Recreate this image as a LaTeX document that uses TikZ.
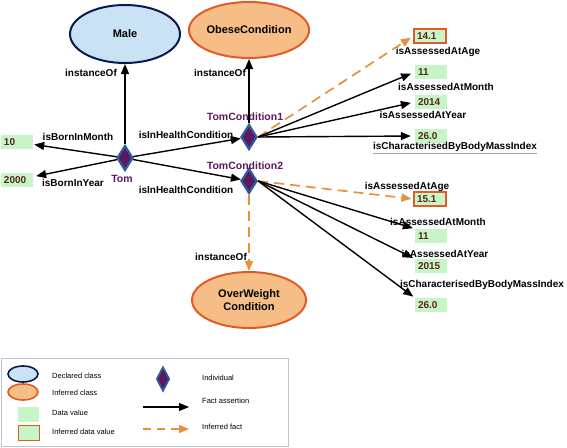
\documentclass[tikz,border=0pt]{standalone}
\usepackage{fontspec}
\setmainfont{Liberation Sans}
\usetikzlibrary{shapes.geometric,arrows.meta}
\definecolor{declfill}{HTML}{C9E3F5}
\definecolor{decldraw}{HTML}{0B1A4E}
\definecolor{inffill}{HTML}{F6BE86}
\definecolor{infdraw}{HTML}{E05A2A}
\definecolor{valfill}{HTML}{C8F5C8}
\definecolor{valtext}{HTML}{5A2418}
\definecolor{indfill}{HTML}{5B1A5E}
\definecolor{inddraw}{HTML}{2E5B9C}
\definecolor{indtext}{HTML}{5B1A5E}
\definecolor{inferarrow}{HTML}{E8913C}
\definecolor{legendframe}{HTML}{B8C6D6}
\begin{document}
\begin{tikzpicture}[x=1pt,y=-1pt,
  declclass/.style={ellipse, draw=decldraw, fill=declfill, line width=2pt, inner sep=0, font=\bfseries\fontsize{11}{13}\selectfont},
  infclass/.style={ellipse, draw=infdraw, fill=inffill, line width=2pt, inner sep=0, align=center, font=\bfseries\fontsize{11}{13}\selectfont},
  indiv/.style={diamond, draw=inddraw, fill=indfill, line width=2.2pt, inner sep=0, minimum width=16pt, minimum height=25pt},
  indlabel/.style={text=indtext, inner sep=1pt, font=\bfseries\fontsize{10.5}{12}\selectfont},
  value/.style={rectangle, fill=valfill, minimum height=14pt, text width=26pt, inner xsep=3pt, inner ysep=0, align=left, text=valtext, font=\bfseries\fontsize{10}{12}\selectfont},
  infvalue/.style={value, draw=infdraw, line width=1.2pt},
  rel/.style={inner sep=1pt, font=\bfseries\fontsize{10}{12}\selectfont},
  fact/.style={draw=black, line width=1.4pt, -{Triangle[length=10pt,width=8pt]}},
  inferred/.style={draw=inferarrow, line width=1.7pt, dash pattern=on 10pt off 6pt, -{Triangle[length=10pt,width=8pt]}},
  legtext/.style={anchor=west, inner sep=0, font=\fontsize{7.5}{9}\selectfont}
]
\useasboundingbox (0,0) rectangle (567,447);

% classes
\node[declclass, minimum width=110pt, minimum height=58pt] (male) at (125,34) {Male};
\node[infclass, minimum width=110pt, minimum height=56pt] (obese) at (249,30) {ObeseCondition};
\node[infclass, minimum width=114pt, minimum height=56pt] (over) at (249,300) {OverWeight\\Condition};

% individuals
\node[indiv] (tom) at (125,158) {};
\node[indiv] (c1) at (249,137) {};
\node[indiv] (c2) at (249,181) {};
\node[indlabel] (tomlbl) at (122,179) {Tom};
\node[indlabel] (c1lbl) at (245,117) {TomCondition1};
\node[indlabel] (c2lbl) at (245,166) {TomCondition2};

% values
\node[value] (v10) at (17,142) {10};
\node[value] (v2000) at (17,180) {2000};
\node[infvalue] (a141) at (430,36) {14.1};
\node[value] (a11) at (431,72) {11};
\node[value] (a2014) at (431,102) {2014};
\node[value] (abmi) at (431,136) {26.0};
\node[infvalue] (b151) at (430,199) {15.1};
\node[value] (b11) at (431,236) {11};
\node[value] (b2015) at (431,266) {2015};
\node[value] (bbmi) at (431,305) {26.0};

% relation labels
\node[rel] (lmonth) at (78,137) {isBornInMonth};
\node[rel] (lyear) at (73,183) {isBornInYear};
\node[rel] (linst1) at (91,73) {instanceOf};
\node[rel] (linst2) at (220,73) {instanceOf};
\node[rel] (lhc1) at (186,135) {isInHealthCondition};
\node[rel] (lhc2) at (186,190) {isInHealthCondition};
\node[rel] (linst3) at (221,257) {instanceOf};
\node[rel] (lage1) at (438,52) {isAssessedAtAge};
\node[rel] (lmon1) at (446,87) {isAssessedAtMonth};
\node[rel] (lyr1) at (423,115) {isAssessedAtYear};
\node[rel] (lbmi1) at (455,148) {\textcolor{gray!70}{\underline{\textcolor{black}{isCharacterisedByBodyMassIndex}}}};
\node[rel] (lage2) at (407,187) {isAssessedAtAge};
\node[rel] (lmon2) at (438,222) {isAssessedAtMonth};
\node[rel] (lyr2) at (445,254) {isAssessedAtYear};
\node[rel] (lbmi2) at (482,285) {isCharacterisedByBodyMassIndex};

% connectors
\draw[fact] (tom) -- (male);
\draw[fact] (c1) -- (obese);
\draw[inferred] (c2) -- (over);
\draw[fact, shorten >=1pt] (tom) -- (v10);
\draw[fact, shorten >=3pt] (tom) -- (v2000);
\draw[fact] (tom) -- (c1);
\draw[fact] (tom) -- (c2);
\draw[inferred, shorten >=3pt] (c1.east) -- (a141.west);
\draw[fact, shorten >=4pt] (c1.east) -- (a11.west);
\draw[fact, shorten >=4pt] (c1.east) -- (a2014.west);
\draw[fact, shorten >=4pt] (c1.east) -- (abmi.west);
\draw[inferred, shorten >=2pt] (c2.east) -- (b151.west);
\draw[fact, shorten >=2pt] (c2.east) -- (b11.north west);
\draw[fact, shorten >=2pt] (c2.east) -- (b2015.north west);
\draw[fact, shorten >=2pt] (c2.east) -- (bbmi.north west);

% legend
\node[draw=legendframe, line width=0.8pt, minimum width=287pt, minimum height=88pt, inner sep=0] (legend) at (144.5,402) {};
\node[declclass, minimum width=30pt, minimum height=16pt, line width=1.6pt] (kdecl) at (23,374) {};
\node[infclass, minimum width=30pt, minimum height=16pt, line width=1.6pt] (kinf) at (23,392) {};
\node[value, text width=21pt, inner xsep=0, minimum height=15pt] (kval) at (28.5,414.5) {};
\node[infvalue, text width=21pt, inner xsep=0, minimum height=15pt, line width=1pt] (kinfval) at (29,432.5) {};
\node[indiv, minimum width=13pt, minimum height=24pt, line width=1.8pt] (kind) at (163,379) {};
\coordinate (kfa) at (143,407);
\coordinate (kfb) at (189,407);
\draw[fact, line width=1.1pt] (kfa) -- (kfb);
\coordinate (kia) at (143,429);
\coordinate (kib) at (189,429);
\draw[inferred, line width=1.3pt, dash pattern=on 8pt off 6pt] (kia) -- (kib);
\node[legtext] (tdecl) at (52,376) {Declared class};
\node[legtext] (tinf) at (52,393) {Inferred class};
\node[legtext] (tval) at (52,413) {Data value};
\node[legtext] (tinfval) at (52,432) {Inferred data value};
\node[legtext] (tind) at (202,378) {Individual};
\node[legtext] (tfact) at (202,401) {Fact assertion};
\node[legtext] (tinfer) at (202,427) {Inferred fact};
\end{tikzpicture}
\end{document}
